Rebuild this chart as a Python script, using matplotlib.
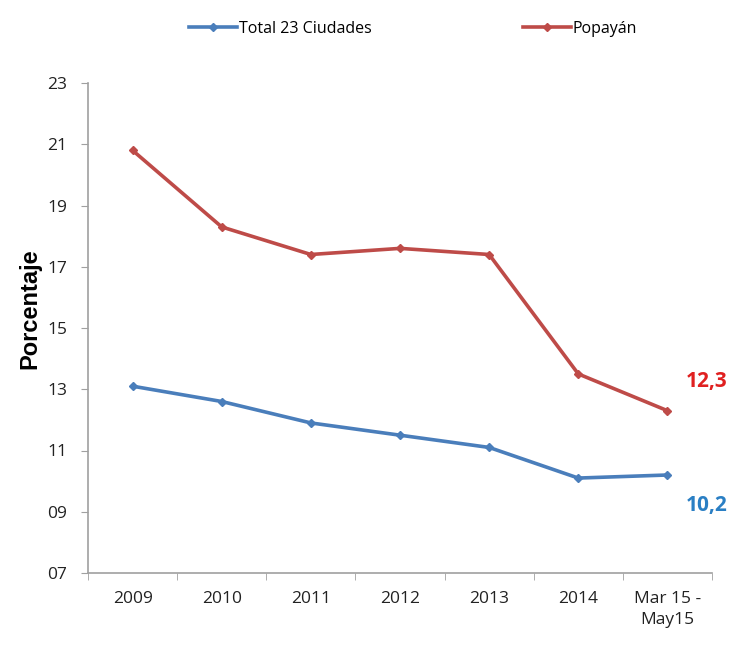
import matplotlib
matplotlib.use("Agg")
import matplotlib.pyplot as plt
from matplotlib.ticker import FixedLocator, NullFormatter

categorias = ["2009", "2010", "2011", "2012", "2013", "2014", "Mar 15 -\nMay15"]
total_23 = [13.1, 12.6, 11.9, 11.5, 11.1, 10.1, 10.2]
popayan = [20.8, 18.3, 17.4, 17.6, 17.4, 13.5, 12.3]
y_ticks = [7, 9, 11, 13, 15, 17, 19, 21, 23]

AZUL = "#4a7ebb"
ROJO = "#be4b48"

plt.rcParams["font.family"] = ["Open Sans", "DejaVu Sans"]

fig = plt.figure(figsize=(7.31, 6.49), dpi=100)
ax = fig.add_axes([88 / 731, 1 - 573 / 649, (712 - 88) / 731, (573 - 83) / 649])

x = list(range(len(categorias)))
ax.plot(x, total_23, color=AZUL, lw=2.6, marker="D", ms=4, label="Total 23 Ciudades")
ax.plot(x, popayan, color=ROJO, lw=2.6, marker="D", ms=4, label="Popayán")

ax.set_xlim(-0.5, len(categorias) - 0.5)
ax.set_ylim(7, 23)
ax.set_yticks(y_ticks)
ax.set_yticklabels([f"{v:02d}" for v in y_ticks], fontsize=12.5, color="#222222")
ax.set_xticks(x)
ax.set_xticklabels(categorias, fontsize=12.5, color="#222222", linespacing=1.4)
ax.xaxis.set_minor_locator(FixedLocator([i + 0.5 for i in range(-1, len(categorias))]))
ax.xaxis.set_minor_formatter(NullFormatter())
ax.tick_params(axis="x", which="major", length=0, pad=13)
ax.tick_params(axis="x", which="minor", length=5, color="#a0a0a0", direction="out")
ax.tick_params(axis="y", length=5, color="#a0a0a0", pad=10)

for s in ["top", "right"]:
    ax.spines[s].set_visible(False)
for s in ["left", "bottom"]:
    ax.spines[s].set_color("#a0a0a0")
    ax.spines[s].set_linewidth(1.2)

ax.set_ylabel("Porcentaje", fontsize=17, fontweight="bold", family="Liberation Sans")
ax.yaxis.set_label_coords(-0.075, 0.54)

ultimo = len(categorias) - 0.56
ax.text(ultimo, total_23[-1] - 1.0, "10,2", color="#2a7fc4", fontsize=15,
        fontweight="bold", ha="center", va="center", clip_on=False)
ax.text(ultimo, popayan[-1] + 0.95, "12,3", color="#e02020", fontsize=15,
        fontweight="bold", ha="center", va="center", clip_on=False)

fig.legend(loc="upper center", bbox_to_anchor=(0.565, 0.99), ncol=2, frameon=False,
           fontsize=11.5, handlelength=3, columnspacing=9.5, handletextpad=0.1)

fig.savefig("out.png", dpi=100)
